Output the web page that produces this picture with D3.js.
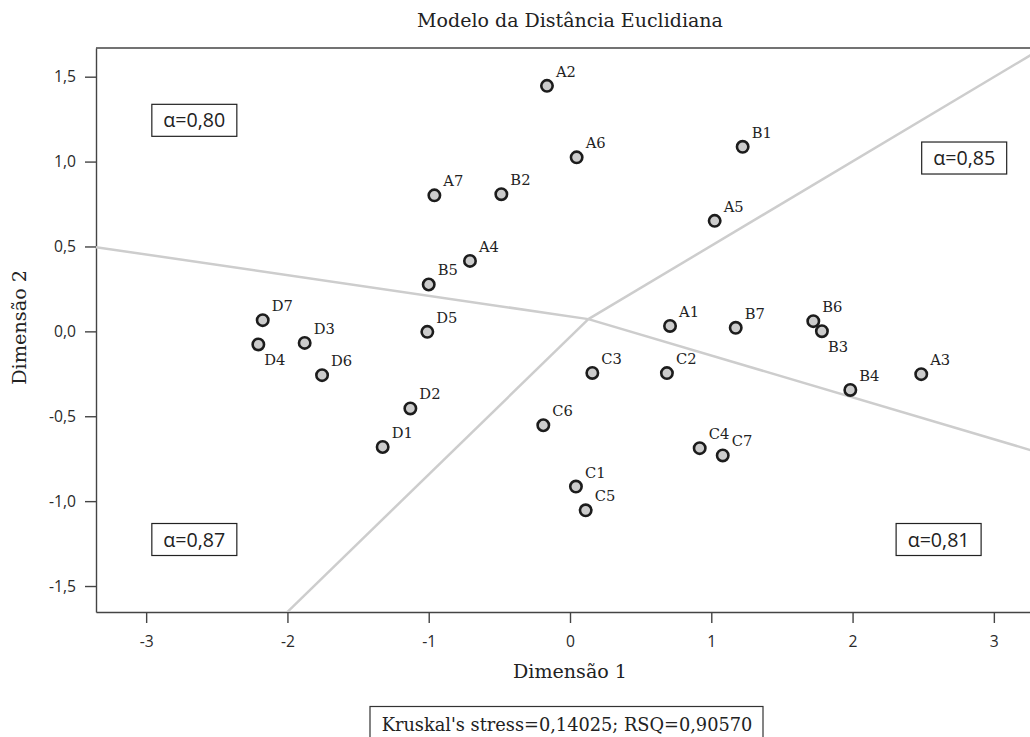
<!DOCTYPE html>
<html>
<head>
<meta charset="utf-8">
<script src="https://cdn.jsdelivr.net/npm/d3@7"></script>
<style>
  body { margin: 0; background: #fff; }
  svg { display: block; }
  .serif { font-family: "DejaVu Serif", serif; fill: #222; }
  .sans { font-family: "Open Sans", sans-serif; fill: #222; }
  .axis line, .axis path { stroke: #444; stroke-width: 1.4; }
</style>
</head>
<body>
<script>
const w = 1030;
const h = 737;
const margin = {
  top: 48,
  bottom: 125,
  left: 96,
  right: -2
};
const width = w - margin.left - margin.right;
const height = h - margin.top - margin.bottom;

// stimuli and their coordinates in the 2D solution
const names = ["A1","A2","A3","A4","A5","A6","A7",
               "B1","B2","B3","B4","B5","B6","B7",
               "C1","C2","C3","C4","C5","C6","C7",
               "D1","D2","D3","D4","D5","D6","D7"];
const dim1 = [0.708, -0.163, 2.486, -0.708, 1.024, 0.047, -0.960,
              1.222, -0.486, 1.783, 1.984, -1.000, 1.722, 1.173,
              0.042, 0.686, 0.158, 0.918, 0.111, -0.189, 1.081,
              -1.326, -1.130, -1.878, -2.206, -1.010, -1.755, -2.175];
const dim2 = [0.032, 1.446, -0.252, 0.415, 0.651, 1.025, 0.801,
              1.087, 0.808, 0.001, -0.345, 0.276, 0.060, 0.021,
              -0.914, -0.246, -0.245, -0.688, -1.054, -0.553, -0.731,
              -0.681, -0.454, -0.068, -0.077, -0.003, -0.258, 0.066];

// region boundaries: rays from a common centre
const centre = [0.130, 0.072];
const rayEnds = [[-3.355, 0.496], [3.27, -0.702], [3.27, 1.632], [-2.003, -1.655]];

// cronbach alpha per region
const alphaText = ["α=0,80", "α=0,85", "α=0,87", "α=0,81"];
const alphaX = [-2.659, 2.790, -2.659, 2.609];
const alphaY = [1.243, 1.021, -1.226, -1.226];

const xTicks = [-3, -2, -1, 0, 1, 2, 3];
const yTicks = [-1.5, -1.0, -0.5, 0.0, 0.5, 1.0, 1.5];
const fitText = "Kruskal's stress=0,14025; RSQ=0,90570";

const ptBr = d3.formatLocale({decimal: ",", thousands: ".", grouping: [3], currency: ["", ""], minus: "-"});

// scale a text's font size so it spans the wanted width
function fitWidth(sel, target) {
  const node = sel.node();
  const size = parseFloat(getComputedStyle(node).fontSize);
  const len = node.getComputedTextLength();
  const s = size * target / len;
  sel.style("font-size", s + "px");
  return s;
}

const svg = d3.select('body').append('svg')
        .attr('width', w)
        .attr('height', h);

svg.append('defs').append('clipPath')
        .attr('id', 'plot-clip')
      .append('rect')
        .attr('width', width)
        .attr('height', height);

const chart = svg.append('g')
        .attr('transform', `translate(${margin.left}, ${margin.top})`);

const x = d3.scaleLinear()
    .domain([-3.355, 3.27])
    .range([0, width]);

const y = d3.scaleLinear()
    .domain([-1.653, 1.669])
    .range([height, 0]);

const xAxis = d3.axisBottom(x)
    .tickValues(xTicks)
    .tickFormat(ptBr.format("d"))
    .tickSize(11)
    .tickSizeOuter(0)
    .tickPadding(13);

const yAxis = d3.axisLeft(y)
    .tickValues(yTicks)
    .tickFormat(ptBr.format(".1f"))
    .tickSize(11)
    .tickSizeOuter(0)
    .tickPadding(9);

const gx = chart.append("g")
    .classed("axis", true)
    .attr("transform", `translate(0, ${height})`)
    .call(xAxis);

const gy = chart.append("g")
    .classed("axis", true)
    .call(yAxis);

[gx, gy].forEach(g => g
    .attr("font-family", "'Open Sans', sans-serif")
    .attr("font-size", 14)
    .selectAll("text").attr("fill", "#2a2a2a"));

// size tick labels from the "1,5" label
const tickSize = fitWidth(gy.selectAll(".tick text").filter(d => d === 1.5), 22);
gx.attr("font-size", tickSize);
gy.attr("font-size", tickSize);
gy.selectAll(".tick text").style("font-size", null);

// top frame line
chart.append("line")
    .attr("x1", 0)
    .attr("x2", width)
    .attr("y1", 0)
    .attr("y2", 0)
    .attr("stroke", "#444")
    .attr("stroke-width", 1.4);

// region boundaries
chart.append("g")
    .attr("clip-path", "url(#plot-clip)")
  .selectAll("line")
  .data(rayEnds)
  .enter().append("line")
    .attr("x1", x(centre[0]))
    .attr("y1", y(centre[1]))
    .attr("x2", d => x(d[0]))
    .attr("y2", d => y(d[1]))
    .attr("stroke", "#cdcdcd")
    .attr("stroke-width", 2.5);

const points = names.map((n, i) => ({name: n, d1: dim1[i], d2: dim2[i]}));
const below = new Set(["D4", "B3"]);

chart.append("g")
  .selectAll("circle")
  .data(points)
  .enter().append("circle")
    .attr("cx", d => x(d.d1))
    .attr("cy", d => y(d.d2))
    .attr("r", 5.7)
    .attr("fill", "#cccccc")
    .attr("stroke", "#1c1c1c")
    .attr("stroke-width", 2.6);

const labels = chart.append("g")
  .selectAll("text")
  .data(points)
  .enter().append("text")
    .classed("serif", true)
    .attr("x", d => x(d.d1) + (below.has(d.name) ? 6 : 9))
    .attr("y", d => y(d.d2) + (below.has(d.name) ? 21 : -9))
    .style("font-size", "14px")
    .text(d => d.name);
const labelSize = fitWidth(labels.filter(d => d.name === "A2"), 20);
labels.style("font-size", labelSize + "px");

// alpha boxes
const alphas = alphaText.map((t, i) => ({t, ax: alphaX[i], ay: alphaY[i]}));
const ab = chart.append("g")
  .selectAll("g")
  .data(alphas)
  .enter().append("g")
    .attr("transform", d => `translate(${x(d.ax)}, ${y(d.ay)})`);

ab.append("rect")
    .attr("x", -42.5)
    .attr("y", -16)
    .attr("width", 85)
    .attr("height", 32)
    .attr("fill", "#fff")
    .attr("stroke", "#222")
    .attr("stroke-width", 1.2);

const at = ab.append("text")
    .classed("sans", true)
    .attr("text-anchor", "middle")
    .attr("dy", "0.36em")
    .style("font-size", "18px")
    .text(d => d.t);
const alphaSize = fitWidth(at.filter((d, i) => i === 0), 62);
at.style("font-size", alphaSize + "px");

// titles
const title = svg.append("text")
    .classed("serif", true)
    .attr("x", x(0) + margin.left)
    .attr("y", 27)
    .attr("text-anchor", "middle")
    .style("font-size", "18px")
    .text("Modelo da Distância Euclidiana");
fitWidth(title, 306);

const xTitle = svg.append("text")
    .classed("serif", true)
    .attr("x", x(0) + margin.left)
    .attr("y", 678)
    .attr("text-anchor", "middle")
    .style("font-size", "19px")
    .text("Dimensão 1");
fitWidth(xTitle, 114);

const yTitle = svg.append("text")
    .classed("serif", true)
    .attr("transform", `translate(26, ${margin.top + y(0) - 4}) rotate(-90)`)
    .attr("text-anchor", "middle")
    .style("font-size", "19px")
    .text("Dimensão 2");
fitWidth(yTitle, 115);

// fit statistics
const fit = svg.append("g");
fit.append("rect")
    .attr("x", 370)
    .attr("y", 706.5)
    .attr("width", 393)
    .attr("height", 50)
    .attr("fill", "#fff")
    .attr("stroke", "#333")
    .attr("stroke-width", 1.2);
const fitLabel = fit.append("text")
    .classed("serif", true)
    .attr("x", 567)
    .attr("y", 731)
    .attr("text-anchor", "middle")
    .style("font-size", "18px")
    .text(fitText);
fitWidth(fitLabel, 371);
</script>
</body>
</html>
